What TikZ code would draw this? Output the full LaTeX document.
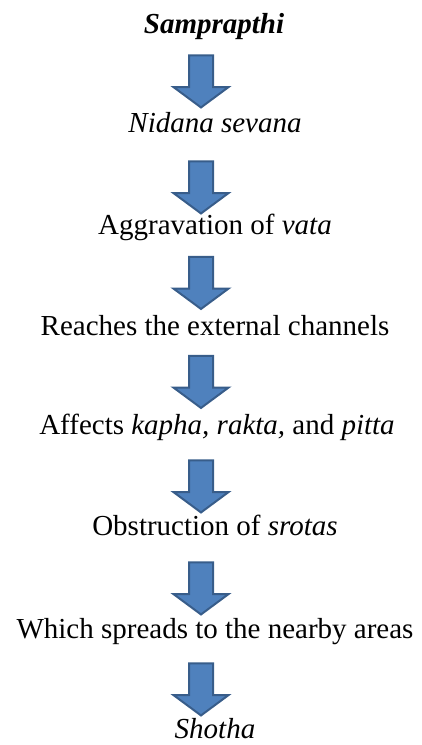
\documentclass[tikz,border=0pt]{standalone}
\usepackage{fontspec}
\setmainfont{Liberation Serif}
\usetikzlibrary{shapes.arrows}
\definecolor{arrowfill}{HTML}{4F81BD}
\definecolor{arrowline}{HTML}{385D8A}
\tikzset{
	blockarrow/.style={shape=single arrow, rotate=-90, draw=arrowline, fill=arrowfill,
    line width=2pt, inner xsep=0pt, inner ysep=11pt, minimum height=52pt,
    minimum width=54pt, single arrow head extend=15.5pt, single arrow tip angle=107},
    steptext/.style={anchor=base, inner sep=0pt, font=\fontsize{29}{35}\selectfont}
		}

\begin{document}
\begin{tikzpicture}

  \useasboundingbox (0,0) rectangle (421pt,-745pt);

  % the stages, one per line
  \node[steptext] (t0) at (214pt,-33pt) {\textbf{\textit{Samprapthi}}};
  \node[steptext] (t1) at (215pt,-132pt) {\textit{Nidana sevana}};
  \node[steptext] (t2) at (215pt,-234pt) {Aggravation of \textit{vata}};
  \node[steptext] (t3) at (215pt,-335pt) {Reaches the external channels};
  \node[steptext] (t4) at (217pt,-434pt) {Affects \textit{kapha, rakta,} and \textit{pitta}};
  \node[steptext] (t5) at (215pt,-535pt) {Obstruction of \textit{srotas}};
  \node[steptext] (t6) at (215pt,-638pt) {Which spreads to the nearby areas};
  \node[steptext] (t7) at (215pt,-738pt) {\textit{Shotha}};

  % block arrows between the stages
  \foreach \y [count=\i] in {77,183,278.5,377.5,482,584,685}
    \node[blockarrow] (a\i) at (201pt,-\y pt) {};

\end{tikzpicture}
\end{document}
